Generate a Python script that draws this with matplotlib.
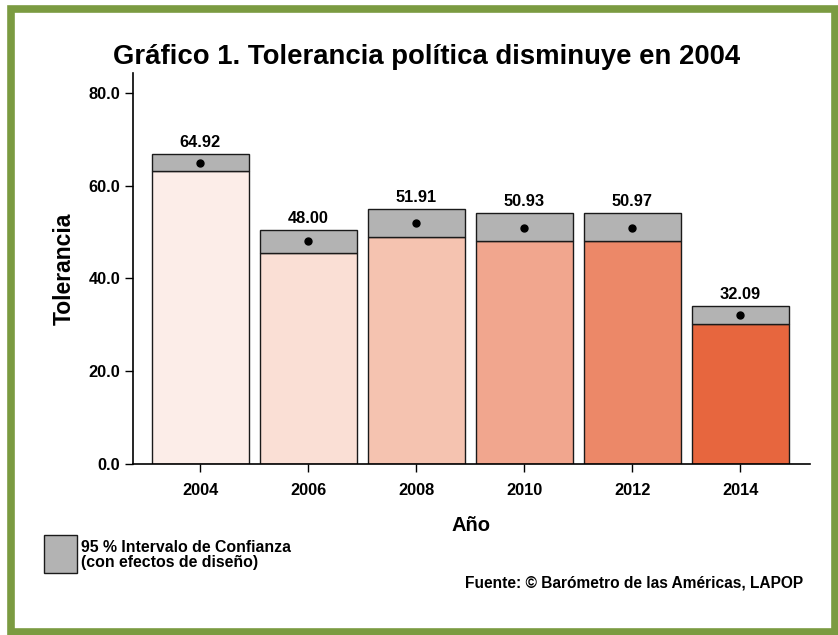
import matplotlib
matplotlib.use("Agg")
import matplotlib.pyplot as plt
from matplotlib.patches import Rectangle

plt.rcParams['font.family'] = ['Liberation Sans', 'DejaVu Sans']
plt.rcParams['font.weight'] = 'bold'

years = ['2004', '2006', '2008', '2010', '2012', '2014']
means = [64.92, 48.00, 51.91, 50.93, 50.97, 32.09]
ci_low = [63.1, 45.6, 48.95, 48.0, 48.0, 30.25]
ci_high = [66.9, 50.45, 54.9, 54.05, 54.05, 34.0]
bar_colors = ['#FCEDE8', '#FADFD5', '#F5C3B0', '#F1A68E', '#EC8868', '#E7663E']
yticks = [0, 20, 40, 60, 80]

fig = plt.figure(figsize=(8.38, 6.35), dpi=100)
ax = fig.add_axes([0.1584, 0.2693, 0.9666 - 0.1584, 0.885 - 0.2693])

x = list(range(len(years)))
edge = '#1a1a1a'
ax.bar(x, ci_low, width=0.893, color=bar_colors, edgecolor=edge, linewidth=1.0, zorder=2)
ax.bar(x, [h - l for h, l in zip(ci_high, ci_low)], bottom=ci_low, width=0.893,
       color='#B3B3B3', edgecolor=edge, linewidth=1.0, zorder=2)
ax.plot(x, means, 'o', color='black', ms=5, zorder=3)
for xi, m, h in zip(x, means, ci_high):
    ax.annotate(f'{m:.2f}', (xi, h), xytext=(0, 3), textcoords='offset points',
                ha='center', va='bottom', fontsize=11.8, fontweight='bold')

ax.set_xlim(-0.626, 5.645)
ax.set_ylim(0, 84.3)
ax.set_yticks(yticks)
ax.set_yticklabels([f'{v:.1f}' for v in yticks])
ax.set_xticks(x)
ax.set_xticklabels(years)
ax.tick_params(axis='both', direction='out', length=6, width=1, labelsize=11.8, colors='black')
ax.tick_params(axis='x', pad=8)
ax.tick_params(axis='y', pad=3)
for lab in ax.get_xticklabels() + ax.get_yticklabels():
    lab.set_fontweight('bold')
for s in ['top', 'right']:
    ax.spines[s].set_visible(False)
for s in ['left', 'bottom']:
    ax.spines[s].set_linewidth(1.2)
    ax.spines[s].set_color('black')

ax.set_ylabel('Tolerancia', fontsize=16.5, fontweight='bold', labelpad=9)
ax.set_xlabel('Año', fontsize=14.5, fontweight='bold', labelpad=13)

fig.text(427 / 838, 1 - 64 / 635, 'Gráfico 1. Tolerancia política disminuye en 2004',
         ha='center', va='baseline', fontsize=19.8, fontweight='bold')

# legend
fig.patches.append(Rectangle((44 / 838, 1 - 573 / 635), 33 / 838, 38 / 635,
                             transform=fig.transFigure, facecolor='#B3B3B3',
                             edgecolor=edge, linewidth=1.0))
fig.text(81 / 838, 1 - 547 / 635, '95 % Intervalo de Confianza', ha='left', va='center',
         fontsize=11.4, fontweight='bold')
fig.text(81 / 838, 1 - 562 / 635, '(con efectos de diseño)', ha='left', va='center',
         fontsize=11.4, fontweight='bold')

fig.text(803 / 838, 1 - 583 / 635, 'Fuente: © Barómetro de las Américas, LAPOP',
         ha='right', va='center', fontsize=11.2, fontweight='bold')

# green frame
fig.patches.append(Rectangle((11 / 838, 1 - 632 / 635), 824 / 838, 623 / 635,
                             transform=fig.transFigure, facecolor='none',
                             edgecolor='#7B9B41', linewidth=5.5))

fig.savefig('out.png', dpi=100)
